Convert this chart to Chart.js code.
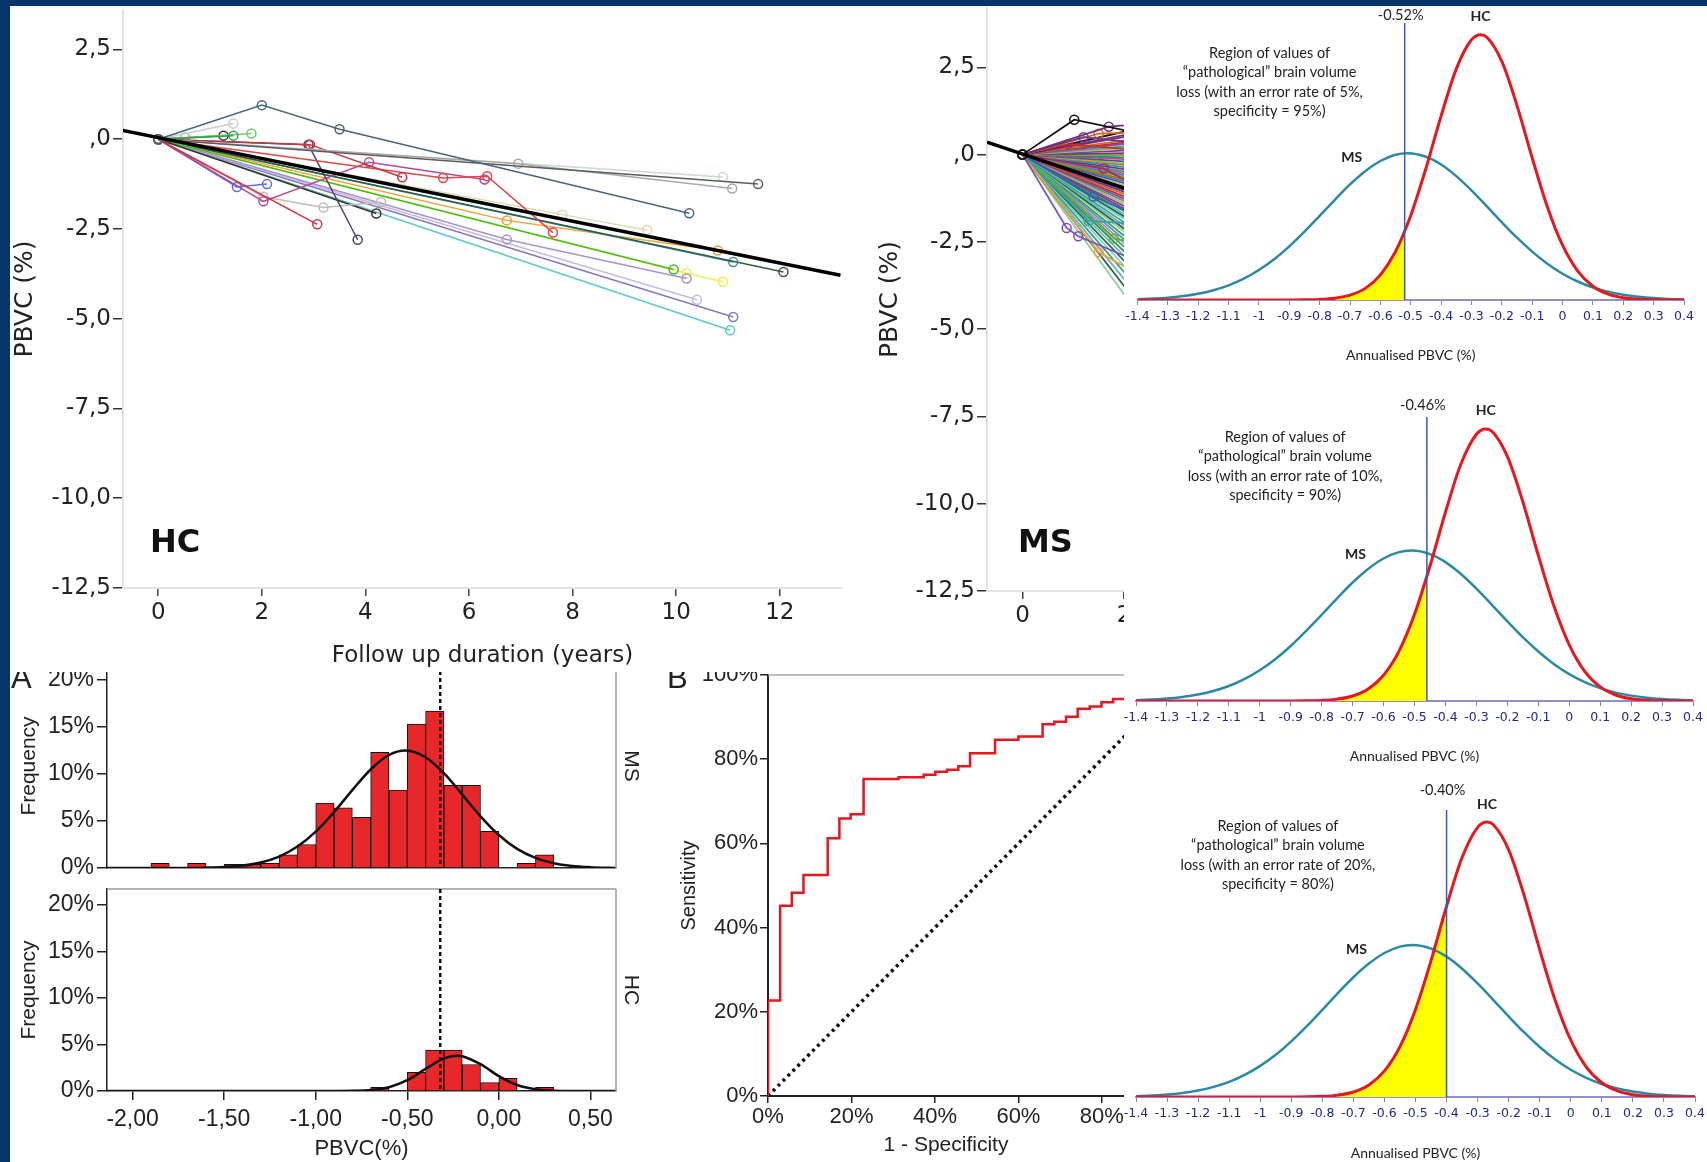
<!DOCTYPE html>
<html>
<head>
<meta charset="utf-8">
<script src="https://cdn.jsdelivr.net/npm/chart.js@4.4.1/dist/chart.umd.min.js"></script>
<style>
  html, body { margin: 0; padding: 0; }
  body { width: 1707px; height: 1162px; background: #07356b; position: relative; overflow: hidden; }
  #sheet { position: absolute; left: 10px; top: 6px; width: 1697px; height: 1156px; background: #fff; }
  #rightCol { position: absolute; left: 1124px; top: 6px; width: 583px; height: 1156px; background: #fff; z-index: 3; }
  canvas { position: absolute; }
  .low { z-index: 1; }
  .top { z-index: 2; background: #fff; }
  .right { z-index: 4; background: #fff; }
</style>
</head>
<body>
<div id="sheet"></div>
<div id="rightCol"></div>

<canvas id="hcChart" class="top" width="870" height="666" style="left:10px;top:6px"></canvas>
<canvas id="msChart" class="top" width="249" height="666" style="left:875px;top:6px"></canvas>

<canvas id="histMs" class="low" width="652" height="225" style="left:10px;top:655px"></canvas>
<canvas id="histHc" class="low" width="652" height="282" style="left:10px;top:880px"></canvas>
<canvas id="rocChart" class="low" width="462" height="502" style="left:662px;top:660px"></canvas>

<canvas id="dist0" class="right" width="583" height="364" style="left:1124px;top:6px"></canvas>
<canvas id="dist1" class="right" width="583" height="391" style="left:1124px;top:380px"></canvas>
<canvas id="dist2" class="right" width="583" height="390" style="left:1124px;top:772px"></canvas>

<script>
const SANS = "'Liberation Sans', Arial, sans-serif";
const WIDE = "'DejaVu Sans', Verdana, sans-serif";
const CAL = "Lato, 'Open Sans', sans-serif";
const INK = "#222";

// ---------------- follow-up PBVC, HC and MS ----------------
const yearTicks = [0, 2, 4, 6, 8, 10, 12];
const pbvcTicks = [-12.5, -10, -7.5, -5, -2.5, 0, 2.5];
const pbvcTickLabels = ["-12,5", "-10,0", "-7,5", "-5,0", "-2,5", ",0", "2,5"];

// each subject: [years, PBVC %] visits
const hcLines = [
  [[0, 0], [2, 0.95], [3.5, 0.28], [10.25, -2.06]],
  [[0, 0], [11.58, -1.25]],
  [[0, 0], [6.95, -0.68], [11.08, -1.37]],
  [[0, 0], [10.9, -1.05]],
  [[0, 0], [2.93, -0.15], [4.71, -1.06]],
  [[0, 0], [5.5, -1.08], [6.35, -1.03], [7.62, -2.6]],
  [[0, 0], [2.9, -0.15], [3.85, -2.8]],
  [[0, 0], [3.07, -2.37]],
  [[0, 0], [2.03, -1.73], [4.07, -0.64], [6.3, -1.12]],
  [[0, 0], [1.52, -1.33], [2.1, -1.25]],
  [[0, 0], [2.03, -1.6], [3.19, -1.9], [4.3, -1.75]],
  [[0, 0], [4.21, -2.07]],
  [[0, 0], [1.45, 0.1]],
  [[0, 0], [1.8, 0.16]],
  [[0, 0], [1.26, 0.1]],
  [[0, 0], [1.45, 0.44]],
  [[0, 0], [0.52, 0.05]],
  [[0, 0], [9.95, -3.63]],
  [[0, 0], [6.73, -2.79], [10.2, -3.88]],
  [[0, 0], [10.2, -3.73], [10.9, -3.97]],
  [[0, 0], [10.4, -4.47]],
  [[0, 0], [11.1, -4.95]],
  [[0, 0], [11.04, -5.32]],
  [[0, 0], [12.07, -3.7]],
  [[0, 0], [11.1, -3.42]],
  [[0, 0], [6.73, -2.26], [10.8, -3.1]],
  [[0, 0], [7.8, -2.1], [9.44, -2.53]]
];
const hcColors = ["#46657f", "#5c5c5c", "#a8a8a8", "#c9dcc9", "#c8343a", "#e0454a", "#5a3d6e", "#d8323c",
  "#b04a9c", "#5a6ee0", "#bdbdbd", "#3a3030", "#2aa64a", "#72cc6a", "#2e2e2e", "#cccccc", "#b0b0b0",
  "#44bb22", "#a793cc", "#eeee55", "#c9b9db", "#8877bb", "#5cc9cc", "#2f5f44", "#3b8fb0", "#f0a030", "#ddd8b0"];
const hcFit = [[-0.7, 0.25], [13.17, -3.79]];

// MS: visits with an extra follow-up point
const msLines = [
  [[0, 0], [1.02, 1.0], [2.5, 0.55]],
  [[0, 0], [1.7, 0.8], [2.5, 0.9]],
  [[0, 0], [1.2, 0.5], [2.5, 0.3]],
  [[0, 0], [1.5, 0.6], [2.5, 0.65]],
  [[0, 0], [0.9, 0.3], [2.5, 0.1]],
  [[0, 0], [0.87, -2.1], [1.1, -2.34], [2.5, -3.2]],
  [[0, 0], [1.3, -1.9], [2.5, -2.0]],
  [[0, 0], [1.5, -2.8], [2.5, -3.6]],
  [[0, 0], [1.4, -1.2], [2.5, -1.9]],
  [[0, 0], [1.6, -0.4], [2.5, -1.1]],
  [[0, 0], [1.8, -2.4], [2.5, -2.6]]
];
// MS: two-visit subjects, PBVC at 2.5 years
const msEndPbvc = [0.82, 0.7, 0.63, 0.51, 0.44, 0.38, 0.29, 0.22, 0.14, 0.05, -0.02, -0.1, -0.16, -0.24,
  -0.31, -0.37, -0.45, -0.52, -0.6, -0.66, -0.73, -0.8, -0.88, -0.95, -1.02, -1.1, -1.17, -1.26, -1.33,
  -1.41, -1.5, -1.58, -1.66, -1.75, -1.84, -1.93, -2.02, -2.12, -2.21, -2.3, -2.42, -2.53, -2.65, -2.76,
  -2.9, -3.03, -3.17, -3.3, -3.46, -3.62, -3.8, -3.98, -4.2, -4.45, -4.7, -5.0];
const msColors = ["#111111", "#7a2a7a", "#6a3a8a", "#d2691e", "#c03030", "#8050b0", "#40a0a0", "#f0a040",
  "#3060c0", "#a03060", "#60b040", "#1a8a8a", "#e04060", "#5050a0", "#90c040", "#b07030", "#2090c0",
  "#703090", "#30a060", "#d05090", "#4080d0", "#80a020", "#c06020", "#209080", "#6040c0", "#a0c060"];
const msLowColors = ["#3a8a5a", "#5fc0b0", "#2a6a4a", "#7ad0d0", "#40a070", "#60b0c8", "#2c5f3c",
  "#8ad0a0", "#3aa05a", "#50a0b0", "#b080c0", "#4aa070"];
const msFit = [[-0.7, 0.36], [2.5, -1.2]];

// ---------------- histograms of annualised PBVC ----------------
const freqTicks = [0, 5, 10, 15, 20];
const freqTickLabels = ["0%", "5%", "10%", "15%", "20%"];
const pbvcHistTicks = [-2, -1.5, -1, -0.5, 0, 0.5];
const pbvcHistLabels = ["-2,00", "-1,50", "-1,00", "-0,50", "0,00", "0,50"];
const histCut = -0.32;

const msBins = [-1.85, -1.65, -1.45, -1.35, -1.25, -1.15, -1.05, -0.95, -0.85, -0.75, -0.65, -0.55, -0.45, -0.35, -0.25, -0.15, -0.05, 0.15, 0.25];
const msFreq = [0.5, 0.5, 0.4, 0.4, 0.5, 1.4, 2.5, 6.9, 6.4, 5.4, 12.3, 8.3, 15.3, 16.7, 8.8, 8.8, 3.9, 0.5, 1.4];
const msCurveX = [-2.15, -1.9, -1.8, -1.7, -1.6, -1.5, -1.4, -1.3, -1.2, -1.1, -1.0, -0.9, -0.8, -0.7, -0.6, -0.51, -0.4, -0.3, -0.2, -0.1, 0, 0.1, 0.2, 0.3, 0.4, 0.5, 0.64];
const msCurveY = [0, 0.001, 0.004, 0.012, 0.038, 0.104, 0.261, 0.593, 1.22, 2.28, 3.87, 5.95, 8.29, 10.48, 12.02, 12.5, 11.78, 10.08, 7.82, 5.5, 3.51, 2.03, 1.07, 0.51, 0.22, 0.09, 0.01];

const hcBins = [-0.65, -0.45, -0.35, -0.25, -0.15, -0.05, 0.05, 0.25];
const hcFreq = [0.4, 2.0, 4.4, 4.4, 2.85, 0.9, 1.35, 0.4];
const hcCurveX = [-2.15, -0.9, -0.8, -0.7, -0.6, -0.5, -0.4, -0.3, -0.23, -0.2, -0.1, 0, 0.1, 0.2, 0.3, 0.4, 0.64];
const hcCurveY = [0, 0.003, 0.019, 0.1, 0.41, 1.16, 2.37, 3.51, 3.8, 3.74, 2.88, 1.6, 0.64, 0.19, 0.04, 0.006, 0];

// ---------------- ROC ----------------
const rocFpr = [0, 0, 2.9, 5.7, 8.5, 14.3, 17.1, 19.8, 22.9, 31.3, 37.3, 40.1, 42.9, 45.6, 48.4, 54.4, 60.0, 65.8, 68.6, 71.4, 74.2, 77.1, 79.9, 82.7, 100];
const rocTpr = [0, 22.7, 45.2, 48.3, 52.5, 61.2, 65.9, 66.9, 75.3, 75.7, 76.3, 77.0, 77.5, 78.3, 81.4, 84.6, 85.4, 88.3, 88.9, 90.1, 92.0, 92.5, 93.5, 94.3, 100];
const chanceX = [0, 100];
const chanceY = [0, 100];
const pctTicks = [0, 20, 40, 60, 80, 100];
const pctTickLabels = ["0%", "20%", "40%", "60%", "80%", "100%"];

// ---------------- normal curves, annualised PBVC ----------------
const hcX = [-1.4, -1.0, -0.9, -0.85, -0.8, -0.75, -0.7, -0.65, -0.6, -0.55, -0.5, -0.45, -0.4, -0.35, -0.3, -0.27, -0.25, -0.2, -0.15, -0.1, -0.05, 0, 0.05, 0.1, 0.15, 0.2, 0.25, 0.3, 0.4];
const hcDensity = [0, 0, 0.001, 0.002, 0.006, 0.018, 0.048, 0.115, 0.249, 0.481, 0.836, 1.302, 1.821, 2.286, 2.574, 2.625, 2.602, 2.36, 1.923, 1.405, 0.921, 0.542, 0.286, 0.136, 0.058, 0.022, 0.008, 0.002, 0];
const msX = [-1.4, -1.35, -1.3, -1.25, -1.2, -1.15, -1.1, -1.05, -1.0, -0.95, -0.9, -0.85, -0.8, -0.75, -0.7, -0.65, -0.6, -0.55, -0.51, -0.45, -0.4, -0.35, -0.3, -0.25, -0.2, -0.15, -0.1, -0.05, 0, 0.05, 0.1, 0.15, 0.2, 0.25, 0.3, 0.35, 0.4];
const msDensity = [0.008, 0.014, 0.023, 0.039, 0.062, 0.097, 0.145, 0.211, 0.297, 0.403, 0.531, 0.676, 0.832, 0.991, 1.143, 1.274, 1.375, 1.436, 1.451, 1.417, 1.34, 1.225, 1.084, 0.928, 0.769, 0.616, 0.478, 0.358, 0.26, 0.183, 0.124, 0.081, 0.052, 0.032, 0.019, 0.011, 0.006];
const cutoffs = [-0.52, -0.46, -0.40];
const cutoffLabels = ["-0.52%", "-0.46%", "-0.40%"];
const cutHeights = [0.68, 1.2, 1.82];
const errorRates = ["5%", "10%", "20%"];
const specificities = ["95%", "90%", "80%"];
const distTicks = [-1.4, -1.3, -1.2, -1.1, -1, -0.9, -0.8, -0.7, -0.6, -0.5, -0.4, -0.3, -0.2, -0.1, 0, 0.1, 0.2, 0.3, 0.4];
const distTickLabels = ["-1.4", "-1.3", "-1.2", "-1.1", "-1", "-0.9", "-0.8", "-0.7", "-0.6", "-0.5", "-0.4", "-0.3", "-0.2", "-0.1", "0", "0.1", "0.2", "0.3", "0.4"];

const quiet = { legend: { display: false }, tooltip: { enabled: false } };
const pts = (xs, ys) => xs.map((x, i) => ({ x, y: ys[i] }));
// fixed axis box, no extra room for edge labels
const fixW = w => s => { s.width = w; s.paddingTop = s.paddingBottom = s.paddingLeft = s.paddingRight = 0; };
const fixH = h => s => { s.height = h; s.paddingTop = s.paddingBottom = s.paddingLeft = s.paddingRight = 0; };

// ---------- spaghetti panels ----------
function spaghetti(id, lines, colors, fit, o) {
  const datasets = lines.map((p, i) => ({
    data: p.map(v => ({ x: v[0], y: v[1] })),
    borderColor: colors[i % colors.length],
    borderWidth: o.lw,
    pointRadius: 4.5,
    pointBorderWidth: 1.5,
    pointBackgroundColor: "rgba(0,0,0,0)",
    pointBorderColor: colors[i % colors.length],
    order: 1
  }));
  datasets.push({ data: fit.map(v => ({ x: v[0], y: v[1] })), borderColor: "#000", borderWidth: 3.5, pointRadius: 0, order: 0 });

  return new Chart(document.getElementById(id), {
    type: "line",
    data: { datasets },
    options: {
      responsive: false, animation: false,
      layout: { autoPadding: false, padding: o.pad },
      plugins: quiet,
      scales: {
        x: {
          type: "linear", min: o.xmin, max: o.xmax,
          afterBuildTicks: s => { s.ticks = yearTicks.filter(v => v <= o.xmax).map(v => ({ value: v })); },
          afterFit: fixH(o.xh),
          grid: { drawOnChartArea: false, tickLength: 8, color: "#444", lineWidth: 1.5 },
          border: { color: "#e2e2e2", width: 2 },
          ticks: { font: { family: WIDE, size: 23 }, color: INK, padding: 3, maxRotation: 0, autoSkip: false },
          title: { display: o.xTitle, text: "Follow up duration (years)", font: { family: WIDE, size: 23 }, color: INK, padding: { top: 0, bottom: 2 } }
        },
        y: {
          min: -12.5, max: o.ymax,
          afterBuildTicks: s => { s.ticks = pbvcTicks.map(v => ({ value: v })); },
          afterFit: fixW(o.yw),
          grid: { drawOnChartArea: false, tickLength: 10, color: "#333", lineWidth: 1.5 },
          border: { color: "#e2e2e2", width: 2 },
          ticks: { callback: (v, i) => pbvcTickLabels[i], font: { family: WIDE, size: 23 }, color: INK, padding: 2 },
          title: { display: true, text: "PBVC (%)", font: { family: WIDE, size: 25 }, color: INK, padding: 0 }
        }
      }
    },
    plugins: [{
      id: "groupTag",
      afterDraw(chart) {
        const { ctx, chartArea } = chart;
        ctx.save();
        ctx.font = "bold 32px " + WIDE;
        ctx.fillStyle = "#111";
        ctx.textBaseline = "middle";
        ctx.fillText(o.tag, chartArea.left + o.tagDx, chartArea.bottom - o.tagDy);
        ctx.restore();
      }
    }]
  });
}

spaghetti("hcChart", hcLines, hcColors, hcFit, {
  pad: { left: 0, right: 38, top: 4, bottom: 0 }, xmin: -0.68, xmax: 13.2, ymax: 3.6, lw: 1.5,
  xh: 84, yw: 113, xTitle: true, tag: "HC", tagDx: 27, tagDy: 44
});

const msAll = msLines.concat(msEndPbvc.map(v => [[0, 0], [2.5, v]]));
// steep decliners drawn in the greens / teals seen at the bottom of the fan
const msLineColors = msLines.map((p, i) => msColors[i % msColors.length])
  .concat(msEndPbvc.map((v, i) => v > -2 ? msColors[i % msColors.length] : msLowColors[i % msLowColors.length]));
spaghetti("msChart", msAll, msLineColors, msFit, {
  pad: { left: 0, right: 0, top: 2, bottom: 0 }, xmin: -0.7, xmax: 2.0, ymax: 4.2, lw: 1.8,
  xh: 81, yw: 112, xTitle: false, tag: "MS", tagDx: 31, tagDy: 47
});

// ---------- histograms ----------
function histChart(id, bins, freq, cx, cy, o) {
  return new Chart(document.getElementById(id), {
    type: "bar",
    data: {
      datasets: [
        { type: "line", data: pts(cx, cy), borderColor: "#111", borderWidth: 2.5, pointRadius: 0, cubicInterpolationMode: "monotone", order: 0 },
        { data: pts(bins, freq), backgroundColor: "#e8272b", borderColor: "#111", borderWidth: 1, barPercentage: 1, categoryPercentage: 1, order: 1 }
      ]
    },
    options: {
      responsive: false, animation: false,
      layout: { autoPadding: false, padding: { left: 0, right: 46, top: 9, bottom: 0 } },
      plugins: quiet,
      scales: {
        x: {
          type: "linear", min: -2.14, max: 0.64, offset: false,
          afterBuildTicks: s => { s.ticks = pbvcHistTicks.map(v => ({ value: v })); },
          afterFit: fixH(o.xh),
          grid: { display: o.axisLabels, drawOnChartArea: false, offset: false, tickLength: 9, color: "#222", lineWidth: 1.5 },
          border: { display: true, color: "#222", width: 1.5 },
          ticks: { display: o.axisLabels, callback: (v, i) => pbvcHistLabels[i], font: { family: SANS, size: 23 }, color: INK, padding: 6, maxRotation: 0, autoSkip: false },
          title: { display: o.axisLabels, text: "PBVC(%)", font: { family: SANS, size: 22 }, color: INK, padding: 0 }
        },
        y: {
          min: 0, max: 21.7,
          afterBuildTicks: s => { s.ticks = freqTicks.map(v => ({ value: v })); },
          afterFit: fixW(97),
          grid: { drawOnChartArea: false, tickLength: 10, color: "#222", lineWidth: 1.5 },
          border: { color: "#222", width: 1.5 },
          ticks: { callback: (v, i) => freqTickLabels[i], font: { family: SANS, size: 23 }, color: INK, padding: 3 },
          title: { display: true, text: "Frequency", font: { family: SANS, size: 21 }, color: INK, padding: { top: 7, bottom: 0 } }
        }
      }
    },
    plugins: [{
      id: "histDeco",
      afterDraw(chart) {
        const { ctx, chartArea: a, scales } = chart;
        ctx.save();
        ctx.strokeStyle = "#9a9a9a";
        ctx.lineWidth = 1.5;
        ctx.beginPath();
        ctx.moveTo(a.right, a.top); ctx.lineTo(a.right, a.bottom);
        if (o.frameTop) { ctx.moveTo(a.left, a.top); ctx.lineTo(a.right, a.top); }
        ctx.stroke();
        const cx = scales.x.getPixelForValue(histCut);
        ctx.strokeStyle = "#111";
        ctx.lineWidth = 2.5;
        ctx.setLineDash([4, 3]);
        ctx.beginPath();
        ctx.moveTo(cx, a.top); ctx.lineTo(cx, a.bottom);
        ctx.stroke();
        ctx.setLineDash([]);
        ctx.fillStyle = INK;
        ctx.font = "21px " + SANS;
        ctx.textAlign = "center";
        ctx.textBaseline = "middle";
        ctx.translate(a.right + 15, (a.top + a.bottom) / 2);
        ctx.rotate(Math.PI / 2);
        ctx.fillText(o.group, 0, 0);
        ctx.restore();
        if (o.panel) {
          ctx.save();
          ctx.font = "31px " + SANS;
          ctx.fillStyle = INK;
          ctx.fillText(o.panel, 1, 33);
          ctx.restore();
        }
      }
    }]
  });
}

histChart("histMs", msBins, msFreq, msCurveX, msCurveY, { xh: 12, axisLabels: false, frameTop: false, group: "MS", panel: "A" });
histChart("histHc", hcBins, hcFreq, hcCurveX, hcCurveY, { xh: 71, axisLabels: true, frameTop: true, group: "HC", panel: "" });

// ---------- ROC ----------
new Chart(document.getElementById("rocChart"), {
  type: "line",
  data: {
    datasets: [
      { data: pts(rocFpr, rocTpr), borderColor: "#e8161e", borderWidth: 2.5, stepped: "before", pointRadius: 0, order: 0 },
      { data: pts(chanceX, chanceY), borderColor: "#111", borderWidth: 3.5, borderDash: [3, 4], pointRadius: 0, order: 1 }
    ]
  },
  options: {
    responsive: false, animation: false,
    layout: { autoPadding: false, padding: { left: 0, right: 0, top: 15, bottom: 0 } },
    plugins: quiet,
    scales: {
      x: {
        type: "linear", min: 0, max: 85.3,
        afterBuildTicks: s => { s.ticks = pctTicks.filter(v => v <= 85).map(v => ({ value: v })); },
        afterFit: fixH(66),
        grid: { drawOnChartArea: false, tickLength: 7, color: "#222", lineWidth: 1.5 },
        border: { color: "#222", width: 2 },
        ticks: { callback: (v, i) => pctTickLabels[i], font: { family: SANS, size: 22 }, color: INK, padding: 1, maxRotation: 0, autoSkip: false },
        title: { display: true, text: "1 - Specificity", font: { family: SANS, size: 21 }, color: INK, padding: { top: 0, bottom: 4 } }
      },
      y: {
        min: 0, max: 100,
        afterBuildTicks: s => { s.ticks = pctTicks.map(v => ({ value: v })); },
        afterFit: fixW(106),
        grid: { drawOnChartArea: false, tickLength: 8, color: "#222", lineWidth: 1.5 },
        border: { color: "#222", width: 2 },
        ticks: { callback: (v, i) => pctTickLabels[i], font: { family: SANS, size: 22 }, color: INK, padding: 2 },
        title: { display: true, text: "Sensitivity", font: { family: SANS, size: 20 }, color: INK, padding: { top: 15, bottom: 0 } }
      }
    }
  },
  plugins: [{
    id: "rocDeco",
    afterDraw(chart) {
      const { ctx, chartArea: a } = chart;
      ctx.save();
      ctx.strokeStyle = "#aaa";
      ctx.lineWidth = 1.5;
      ctx.beginPath();
      ctx.moveTo(a.left, a.top); ctx.lineTo(a.right, a.top);
      ctx.stroke();
      ctx.font = "31px " + SANS;
      ctx.fillStyle = INK;
      ctx.fillText("B", 5, 28);
      ctx.restore();
    }
  }]
});

// ---------- cut-off panels ----------
const distStyles = [
  { pl: 13.5, pr: 23, pt: 17, xh: 70, tb: 6, textAt: -0.965, textDy: 30, cutDy: -8 },
  { pl: 12, pr: 14, pt: 37, xh: 70, tb: 6, textAt: -0.918, textDy: 20, cutDy: -12 },
  { pl: 12, pr: 12, pt: 38, xh: 65, tb: 0, textAt: -0.943, textDy: 16, cutDy: -20 }
];

function distChart(k) {
  const st = distStyles[k];
  const cut = cutoffs[k];
  const tail = pts(hcX, hcDensity).filter(p => p.x < cut);
  tail.push({ x: cut, y: cutHeights[k] });
  const note = [
    "Region of values of",
    "\u201cpathological\u201d brain volume",
    "loss (with an error rate of " + errorRates[k] + ",",
    "specificity = " + specificities[k] + ")"
  ];
  new Chart(document.getElementById("dist" + k), {
    type: "line",
    data: {
      datasets: [
        { data: pts(hcX, hcDensity), borderColor: "#e8161e", borderWidth: 3, pointRadius: 0, cubicInterpolationMode: "monotone", order: 0 },
        { data: pts(msX, msDensity), borderColor: "#2a8aa6", borderWidth: 2.5, pointRadius: 0, cubicInterpolationMode: "monotone", order: 1 },
        { data: tail, borderWidth: 0, borderColor: "rgba(0,0,0,0)", backgroundColor: "#ffff00", fill: "origin", pointRadius: 0, cubicInterpolationMode: "monotone", order: 2 }
      ]
    },
    options: {
      responsive: false, animation: false,
      layout: { autoPadding: false, padding: { left: st.pl, right: st.pr, top: st.pt, bottom: 0 } },
      plugins: quiet,
      scales: {
        x: {
          type: "linear", min: -1.4, max: 0.4,
          afterBuildTicks: s => { s.ticks = distTicks.map(v => ({ value: v })); },
          afterFit: fixH(st.xh),
          grid: { drawOnChartArea: false, tickLength: 5, color: "#8080c0", lineWidth: 1 },
          border: { color: "#9090c8", width: 2 },
          ticks: { callback: (v, i) => distTickLabels[i], font: { family: WIDE, size: 12.5 }, color: "#1f2a80", padding: 4, maxRotation: 0, autoSkip: false },
          title: { display: true, text: "Annualised PBVC (%)", font: { family: CAL, size: 14 }, color: INK, padding: { top: 0, bottom: st.tb } }
        },
        y: { display: false, min: 0, max: 2.74 }
      }
    },
    plugins: [{
      id: "cutDeco",
      afterDatasetsDraw(chart) {
        const { ctx, chartArea: a, scales: { x, y } } = chart;
        const px = x.getPixelForValue(cut);
        ctx.save();
        ctx.strokeStyle = "#3d5ca8";
        ctx.lineWidth = 1.5;
        ctx.beginPath();
        ctx.moveTo(px, a.top); ctx.lineTo(px, a.bottom);
        ctx.stroke();

        ctx.fillStyle = INK;
        ctx.textAlign = "center";
        ctx.textBaseline = "middle";
        ctx.font = "14.5px " + CAL;
        ctx.fillText(cutoffLabels[k], px - 4, a.top + st.cutDy);
        const tx = x.getPixelForValue(st.textAt);
        note.forEach((line, i) => ctx.fillText(line, tx, a.top + st.textDy + i * 19.5));

        const hcPeak = hcDensity.indexOf(Math.max(...hcDensity));
        const msPeak = msDensity.indexOf(Math.max(...msDensity));
        ctx.font = "bold 14px " + CAL;
        ctx.fillText("HC", x.getPixelForValue(hcX[hcPeak]), y.getPixelForValue(hcDensity[hcPeak]) - 18);
        ctx.fillText("MS", x.getPixelForValue(msX[msPeak]) - 56, y.getPixelForValue(msDensity[msPeak]) + 4);
        ctx.restore();
      }
    }]
  });
}
[0, 1, 2].forEach(distChart);
</script>
</body>
</html>
